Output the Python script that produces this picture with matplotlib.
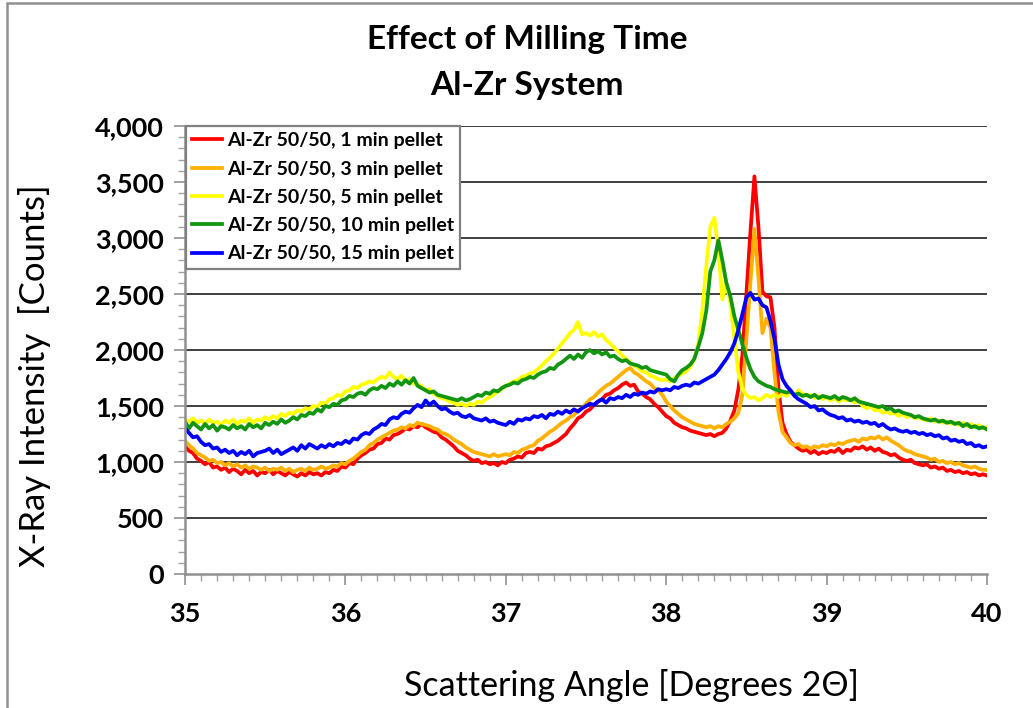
import numpy as np
import matplotlib
matplotlib.use("Agg")
import matplotlib.pyplot as plt
from matplotlib.patches import Rectangle
from matplotlib.ticker import MultipleLocator

plt.rcParams['font.family'] = ['Lato', 'DejaVu Sans']

# --- Data (0.025 deg steps, 35 -> 40) ---
step = 0.025
n_pts = 201

red_1min = [
    1140, 1100, 1080, 1030, 1010, 980, 1000, 950, 960, 930, 950, 910, 940, 920, 890, 930, 900, 920, 880, 910,
    900, 930, 890, 920, 900, 880, 910, 890, 870, 900, 880, 910, 890, 900, 880, 910, 900, 930, 920, 960,
    950, 990, 980, 1030, 1060, 1080, 1110, 1120, 1160, 1170, 1210, 1200, 1240, 1250, 1270, 1300, 1290, 1320, 1310, 1340,
    1310, 1290, 1270, 1260, 1220, 1200, 1170, 1140, 1100, 1080, 1060, 1030, 1010, 1020, 990, 1000, 980, 990, 970, 1000,
    990, 1020, 1030, 1050, 1040, 1080, 1090, 1080, 1120, 1110, 1140, 1150, 1170, 1190, 1220, 1250, 1300, 1340, 1390, 1410,
    1450, 1470, 1510, 1540, 1560, 1600, 1610, 1640, 1660, 1690, 1710, 1680, 1690, 1630, 1610, 1580, 1560, 1520, 1490, 1450,
    1410, 1390, 1350, 1330, 1310, 1300, 1280, 1270, 1260, 1250, 1240, 1250, 1230, 1250, 1260, 1300, 1370, 1460, 1650, 1950,
    2500, 3050, 3550, 3100, 2520, 2480, 2470, 2200, 1650, 1350, 1250, 1180, 1150, 1120, 1100, 1110, 1080, 1100, 1070, 1090,
    1080, 1100, 1090, 1120, 1080, 1110, 1100, 1130, 1120, 1140, 1110, 1130, 1100, 1120, 1090, 1080, 1060, 1070, 1040, 1020,
    1010, 1020, 990, 980, 970, 980, 950, 960, 940, 950, 920, 930, 910, 920, 900, 910, 890, 900, 880, 890,
    880,
]

orange_3min = [
    1190, 1150, 1120, 1080, 1060, 1040, 1010, 1020, 990, 1000, 970, 990, 960, 980, 950, 970, 940, 960, 950, 930,
    950, 920, 940, 930, 950, 920, 940, 910, 930, 940, 920, 950, 930, 940, 960, 940, 950, 970, 960, 990,
    980, 1010, 1030, 1060, 1090, 1110, 1150, 1170, 1200, 1220, 1240, 1260, 1280, 1290, 1310, 1300, 1330, 1320, 1350, 1340,
    1330, 1320, 1300, 1290, 1260, 1250, 1230, 1200, 1180, 1160, 1130, 1110, 1090, 1080, 1070, 1060, 1050, 1070, 1050, 1060,
    1070, 1060, 1090, 1080, 1110, 1120, 1140, 1150, 1190, 1210, 1240, 1270, 1290, 1320, 1350, 1370, 1400, 1420, 1460, 1480,
    1520, 1560, 1580, 1620, 1650, 1680, 1700, 1730, 1760, 1790, 1820, 1840, 1800, 1780, 1750, 1720, 1700, 1660, 1640, 1600,
    1540, 1500, 1460, 1430, 1400, 1380, 1360, 1340, 1330, 1320, 1310, 1320, 1300, 1320, 1310, 1340, 1360, 1390, 1440, 1600,
    2100, 2600, 3080, 2650, 2150, 2280, 2200, 1800, 1450, 1270, 1220, 1170, 1150, 1160, 1130, 1140, 1120, 1140, 1130, 1150,
    1140, 1160, 1150, 1170, 1160, 1180, 1190, 1200, 1180, 1210, 1200, 1220, 1210, 1230, 1200, 1220, 1190, 1170, 1150, 1120,
    1100, 1090, 1070, 1060, 1050, 1040, 1020, 1030, 1000, 1010, 990, 1000, 980, 990, 970, 960, 950, 960, 940, 930,
    930,
]

yellow_5min = [
    1380, 1360, 1390, 1350, 1370, 1340, 1380, 1350, 1360, 1330, 1370, 1350, 1380, 1340, 1370, 1360, 1390, 1350, 1380, 1370,
    1400, 1380, 1410, 1390, 1430, 1410, 1440, 1430, 1460, 1450, 1480, 1470, 1500, 1490, 1530, 1520, 1560, 1570, 1600, 1590,
    1630, 1640, 1670, 1660, 1690, 1700, 1720, 1710, 1740, 1760, 1750, 1800, 1760, 1740, 1770, 1720, 1740, 1700, 1690, 1680,
    1640, 1650, 1610, 1590, 1570, 1560, 1540, 1530, 1510, 1520, 1500, 1520, 1510, 1540, 1530, 1560, 1580, 1600, 1630, 1650,
    1680, 1700, 1720, 1730, 1760, 1770, 1790, 1800, 1830, 1860, 1900, 1930, 1970, 2010, 2060, 2100, 2150, 2180, 2250, 2140,
    2150, 2130, 2160, 2120, 2140, 2090, 2060, 2020, 1990, 1950, 1920, 1890, 1860, 1840, 1810, 1800, 1770, 1760, 1740, 1730,
    1740, 1720, 1750, 1770, 1790, 1810, 1850, 1920, 2050, 2350, 2750, 3100, 3180, 2900, 2450, 2600, 2420, 2100, 1800, 1650,
    1600, 1570, 1580, 1550, 1570, 1600, 1580, 1600, 1580, 1610, 1590, 1620, 1600, 1640, 1610, 1590, 1600, 1570, 1590, 1560,
    1580, 1550, 1570, 1540, 1560, 1550, 1560, 1530, 1550, 1500, 1480, 1500, 1460, 1470, 1440, 1450, 1430, 1440, 1410, 1430,
    1400, 1420, 1390, 1400, 1380, 1370, 1390, 1360, 1370, 1350, 1360, 1340, 1350, 1330, 1350, 1320, 1340, 1310, 1330, 1300,
    1310,
]

green_10min = [
    1360, 1300, 1350, 1320, 1290, 1340, 1300, 1330, 1280, 1320, 1310, 1290, 1330, 1300, 1320, 1290, 1340, 1310, 1330, 1300,
    1350, 1330, 1360, 1340, 1380, 1350, 1370, 1400, 1380, 1420, 1410, 1440, 1430, 1470, 1450, 1500, 1490, 1520, 1510, 1550,
    1560, 1590, 1580, 1610, 1620, 1600, 1640, 1660, 1650, 1680, 1660, 1700, 1680, 1720, 1690, 1730, 1700, 1750, 1680, 1660,
    1640, 1620, 1630, 1600, 1590, 1580, 1570, 1560, 1550, 1570, 1550, 1560, 1580, 1600, 1590, 1620, 1610, 1640, 1630, 1660,
    1680, 1690, 1710, 1700, 1730, 1740, 1760, 1750, 1780, 1800, 1810, 1840, 1830, 1870, 1890, 1920, 1950, 1920, 1960, 1930,
    1980, 2000, 1970, 1990, 1960, 1980, 1940, 1950, 1920, 1900, 1910, 1880, 1870, 1860, 1840, 1850, 1820, 1810, 1800, 1790,
    1780, 1740, 1720, 1780, 1820, 1840, 1870, 1920, 2030, 2150, 2350, 2700, 2800, 2980, 2800, 2600, 2480, 2300, 2180, 2050,
    1930, 1830, 1760, 1720, 1700, 1680, 1670, 1650, 1640, 1630, 1620, 1630, 1600, 1610, 1590, 1600, 1580, 1600, 1570, 1590,
    1580, 1570, 1590, 1560, 1580, 1570, 1550, 1570, 1540, 1530, 1520, 1510, 1500, 1490, 1500, 1470, 1480, 1450, 1460, 1440,
    1430, 1420, 1400, 1410, 1390, 1380, 1370, 1380, 1360, 1370, 1350, 1360, 1340, 1350, 1320, 1340, 1310, 1320, 1300, 1310,
    1290,
]

blue_15min = [
    1300, 1260, 1220, 1230, 1180, 1150, 1160, 1120, 1130, 1090, 1110, 1080, 1100, 1060, 1090, 1070, 1100, 1050, 1080, 1090,
    1100, 1120, 1080, 1110, 1070, 1090, 1110, 1130, 1100, 1150, 1120, 1160, 1140, 1120, 1150, 1130, 1160, 1140, 1170, 1160,
    1190, 1170, 1210, 1200, 1240, 1260, 1250, 1290, 1310, 1340, 1330, 1380, 1400, 1390, 1430, 1450, 1440, 1480, 1510, 1490,
    1550, 1510, 1540, 1500, 1470, 1480, 1450, 1430, 1440, 1410, 1400, 1420, 1390, 1380, 1370, 1390, 1360, 1370, 1350, 1340,
    1330, 1360, 1340, 1380, 1370, 1390, 1380, 1410, 1400, 1420, 1390, 1430, 1420, 1450, 1430, 1460, 1440, 1470, 1450, 1480,
    1500, 1520, 1510, 1540, 1560, 1530, 1570, 1560, 1580, 1570, 1600, 1580, 1610, 1600, 1620, 1610, 1630, 1620, 1650, 1640,
    1650, 1640, 1670, 1660, 1680, 1690, 1680, 1710, 1700, 1720, 1740, 1760, 1780, 1820, 1870, 1920, 1980, 2060, 2180, 2320,
    2470, 2510, 2450, 2460, 2400, 2380, 2260, 2100, 1870, 1740, 1680, 1640, 1590, 1560, 1540, 1520, 1490, 1500, 1460, 1470,
    1440, 1420, 1410, 1390, 1400, 1370, 1380, 1360, 1370, 1350, 1360, 1340, 1350, 1320, 1340, 1310, 1290, 1300, 1280, 1270,
    1280, 1260, 1270, 1250, 1260, 1240, 1250, 1230, 1240, 1210, 1220, 1190, 1200, 1180, 1190, 1160, 1170, 1140, 1150, 1130,
    1140,
]

series_labels = [
    "Al-Zr 50/50, 1 min pellet",
    "Al-Zr 50/50, 3 min pellet",
    "Al-Zr 50/50, 5 min pellet",
    "Al-Zr 50/50, 10 min pellet",
    "Al-Zr 50/50, 15 min pellet",
]
series_colors = ["#ff0000", "#ffb000", "#ffff00", "#129612", "#0000ff"]

x_ticks = [35, 36, 37, 38, 39, 40]
y_ticks = [0, 500, 1000, 1500, 2000, 2500, 3000, 3500, 4000]
y_tick_labels = ["0", "500", "1,000", "1,500", "2,000", "2,500", "3,000", "3,500", "4,000"]

angle = 35 + step * np.arange(n_pts)

# --- Figure ---
fig = plt.figure(figsize=(10.33, 7.08), dpi=100)
ax = fig.add_axes([185 / 1033, 1 - 574 / 708, (987 - 185) / 1033, (574 - 126) / 708])

all_series = [red_1min, orange_3min, yellow_5min, green_10min, blue_15min]
for vals, lab, col in zip(all_series, series_labels, series_colors):
    assert len(vals) == n_pts
    ax.plot(angle, vals, color=col, linewidth=2.7, label=lab, solid_joinstyle="round")

ax.set_xlim(35, 40)
ax.set_ylim(0, 4000)
ax.set_xticks(x_ticks)
ax.set_xticklabels([str(t) for t in x_ticks])
ax.set_yticks(y_ticks)
ax.set_yticklabels(y_tick_labels)
ax.xaxis.set_minor_locator(MultipleLocator(0.1))
ax.yaxis.set_minor_locator(MultipleLocator(100))

for yv in y_ticks[1:]:
    ax.axhline(yv, color="#303030", linewidth=1.3, zorder=0)

for s in ["top", "right"]:
    ax.spines[s].set_visible(False)
for s in ["left", "bottom"]:
    ax.spines[s].set_color("#909090")
    ax.spines[s].set_linewidth(1.8)

ax.tick_params(axis="both", which="major", direction="out", length=8, width=1.2,
               color="#909090", labelsize=19.5, pad=7)
ax.tick_params(axis="both", which="minor", direction="out", length=5, width=1.0,
               color="#a0a0a0")
for lbl in ax.get_xticklabels() + ax.get_yticklabels():
    lbl.set_fontweight("bold")
ax.tick_params(axis="x", which="major", pad=12)

leg = ax.legend(loc="upper left", bbox_to_anchor=(0.001, 1.0), borderaxespad=0,
                fancybox=False, edgecolor="#808080", framealpha=1,
                prop={"weight": "bold", "size": 14}, handlelength=1.55,
                handletextpad=0.25, labelspacing=0.58, borderpad=0.32)
leg.get_frame().set_linewidth(1.6)

# --- Text ---
fig.text(527 / 1033, 1 - 40 / 708, "Effect of Milling Time", ha="center", va="center",
         fontsize=24, fontweight="bold")
fig.text(527 / 1033, 1 - 85 / 708, "Al-Zr System", ha="center", va="center",
         fontsize=24, fontweight="bold")
fig.text(35 / 1033, 1 - 376 / 708, "X-Ray Intensity  [Counts]", ha="center", va="center",
         rotation=90, fontsize=25)
fig.text(632 / 1033, 1 - 685 / 708, "Scattering Angle [Degrees 2\u0398]", ha="center",
         va="center", fontsize=24.5, family=["Lato", "DejaVu Sans"])

# figure border (top and left edges visible)
fig.patches.append(Rectangle((7 / 1033, -0.05), 1.2, 1 - 3 / 708 + 0.05,
                             transform=fig.transFigure, fill=False,
                             edgecolor="#909090", linewidth=1.8))

fig.savefig("out.png", dpi=100)
